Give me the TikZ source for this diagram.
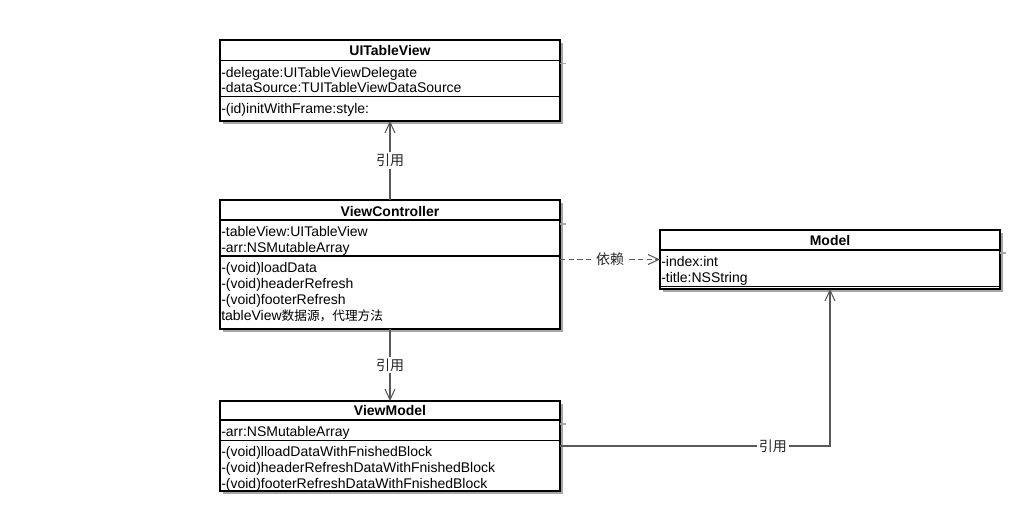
\documentclass[tikz,border=0pt]{standalone}
\usepackage{fontspec}
\setmainfont{Liberation Sans}
\newfontfamily\cjk{Noto Sans CJK SC}
\usetikzlibrary{arrows.meta,shadows}
\begin{document}
\begin{tikzpicture}[x=0.75pt,y=-0.75pt,
  cls/.style={draw=black, line width=1.5pt, fill=white, minimum width=255pt, inner sep=0pt, outer sep=0pt,
    drop shadow={shadow xshift=2.5pt, shadow yshift=-2.5pt, fill=black!35, opacity=1}},
  sepline/.style={draw=black, line width=1.1pt},
  tick/.style={draw=black!35, line width=0.8pt},
  txt/.style={anchor=base west, inner sep=0pt, font=\fontsize{10.5}{12}\selectfont},
  ttl/.style={anchor=base, inner sep=0pt, font=\fontsize{10.5}{12}\selectfont\bfseries},
  conn/.style={draw=black!65, line width=1.1pt},
  oa/.style={-{Straight Barb[length=8pt,width=7.5pt,line width=0.8pt]}},
  lbl/.style={fill=white, inner sep=1.5pt, font=\fontsize{10.5}{12}\selectfont\cjk, text=black!85}
]
\useasboundingbox (0,0) rectangle (1022,514);

% ---------- UITableView ----------
\node[cls, minimum height=60.75pt] (uitv) at (390,80.5) {};
\draw[sepline] (uitv.west |- 0,60.5) -- (uitv.east |- 0,60.5);
\draw[sepline] (uitv.west |- 0,96.5) -- (uitv.east |- 0,96.5);
\draw[tick] (uitv.east |- 0,63.5) -- ++(6,0);
\node[ttl] (uitvT) at (390,55.5) {UITableView};
\node[txt] (uitvA1) at (221,77) {-delegate:UITableViewDelegate};
\node[txt] (uitvA2) at (221,92) {-dataSource:TUITableViewDataSource};
\node[txt] (uitvM1) at (221,113.5) {-(id)initWithFrame:style:};

% ---------- ViewController ----------
\node[cls, minimum height=96.75pt] (vc) at (390,264.5) {};
\draw[sepline] (vc.west |- 0,220) -- (vc.east |- 0,220);
\draw[sepline] (vc.west |- 0,256) -- (vc.east |- 0,256);
\draw[tick] (vc.east |- 0,224) -- ++(6,0);
\node[ttl] (vcT) at (390,216) {ViewController};
\node[txt] (vcA1) at (221,236) {-tableView:UITableView};
\node[txt] (vcA2) at (221,252) {-arr:NSMutableArray};
\node[txt] (vcM1) at (221,272) {-(void)loadData};
\node[txt] (vcM2) at (221,288) {-(void)headerRefresh};
\node[txt] (vcM3) at (221,304) {-(void)footerRefresh};
\node[txt] (vcM4) at (221,320) {tableView{\cjk\fontsize{9.5}{12}\selectfont 数据源，代理方法}};

% ---------- Model ----------
\node[cls, minimum height=44.25pt] (model) at (830,259.5) {};
\draw[sepline] (model.west |- 0,250) -- (model.east |- 0,250);
\draw[sepline] (model.west |- 0,286.5) -- (model.east |- 0,286.5);
\draw[tick] (model.east |- 0,253) -- ++(6,0);
\node[ttl] (modelT) at (830,245.5) {Model};
\node[txt] (modelA1) at (661,266.5) {-index:int};
\node[txt] (modelA2) at (661,282.5) {-title:NSString};

% ---------- ViewModel ----------
\node[cls, minimum height=67.5pt] (vm) at (390,446) {};
\draw[sepline] (vm.west |- 0,420) -- (vm.east |- 0,420);
\draw[sepline] (vm.west |- 0,440.5) -- (vm.east |- 0,440.5);
\draw[tick] (vm.east |- 0,424) -- ++(6,0);
\node[ttl] (vmT) at (390,415) {ViewModel};
\node[txt] (vmA1) at (221,436) {-arr:NSMutableArray};
\node[txt] (vmM1) at (221,456) {-(void)lloadDataWithFnishedBlock};
\node[txt] (vmM2) at (221,472) {-(void)headerRefreshDataWithFnishedBlock};
\node[txt] (vmM3) at (221,488) {-(void)footerRefreshDataWithFnishedBlock};

% ---------- connectors ----------
\draw[conn, oa] (vc.north) -- (uitv.south) node[lbl, pos=0.5] {引用};
\draw[conn, oa] (vc.south) -- (vm.north) node[lbl, pos=0.5] {引用};
\draw[conn, oa, dash pattern=on 4pt off 2.5pt] (vc.east |- model.west) -- (model.west) node[lbl, pos=0.5] {依赖};
\draw[conn, oa] (vm.east) -| (model.south) node[lbl, pos=0.394] {引用};
\end{tikzpicture}
\end{document}
